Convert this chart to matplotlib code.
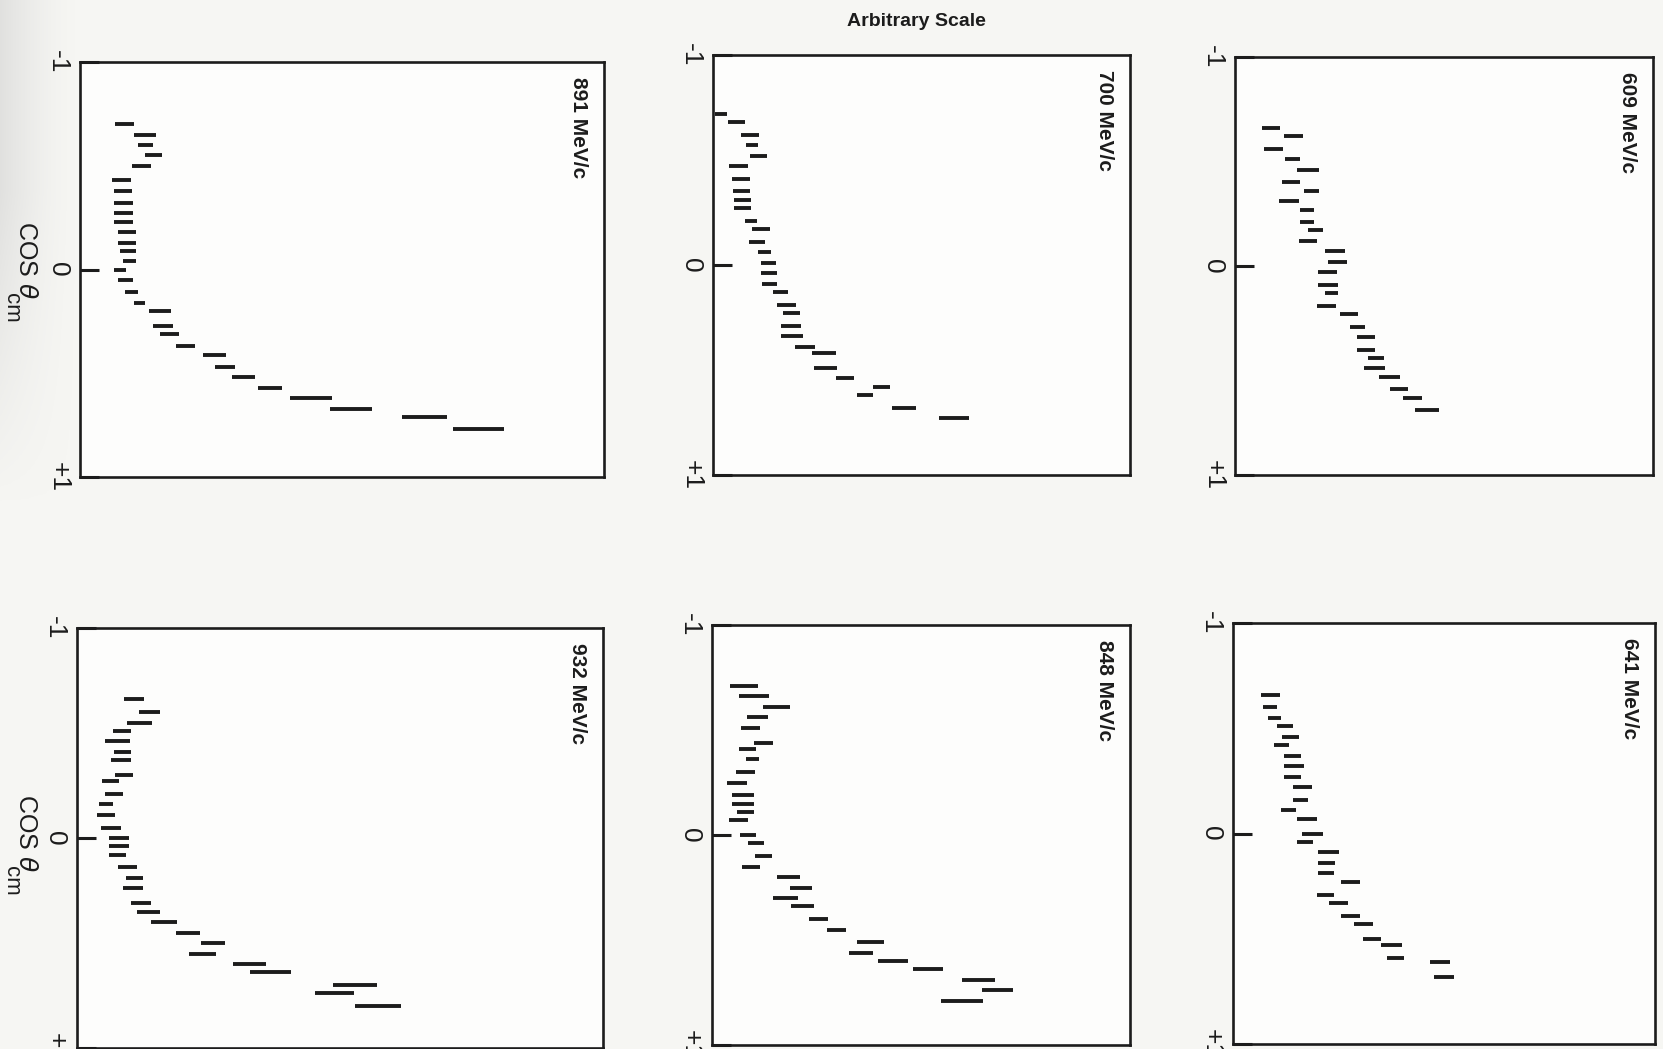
import numpy as np
import matplotlib
matplotlib.use('Agg')
import matplotlib.pyplot as plt

plt.rcParams['font.family'] = ['Liberation Sans', 'DejaVu Sans']

# cos(theta_cm) bins, measured value and error (arbitrary units, 0-100 across a panel)
cos_609 = [-0.66, -0.62, -0.56, -0.51, -0.46, -0.40, -0.36, -0.31, -0.27, -0.21, -0.17, -0.12, -0.07, -0.02,
           0.03, 0.09, 0.13, 0.19, 0.23, 0.29, 0.34, 0.40, 0.44, 0.49, 0.53, 0.59, 0.63, 0.69]
val_609 = [8.6, 14.0, 9.2, 13.8, 17.5, 13.4, 18.4, 12.9, 17.3, 17.3, 19.3, 17.4, 23.9, 24.5,
           22.1, 22.3, 23.1, 21.8, 27.2, 29.2, 31.4, 31.3, 33.8, 33.4, 37.0, 39.2, 42.5, 45.9]
err_609 = [2.2, 2.2, 2.2, 1.8, 2.7, 2.2, 1.8, 2.4, 1.7, 1.7, 1.8, 2.2, 2.4, 2.2,
           2.2, 2.4, 1.6, 2.3, 2.2, 1.8, 2.1, 2.2, 1.9, 2.5, 2.5, 2.1, 2.2, 2.8]

cos_641 = [-0.66, -0.60, -0.55, -0.51, -0.46, -0.42, -0.37, -0.32, -0.27, -0.22, -0.16, -0.11, -0.07, 0.00,
           0.04, 0.09, 0.14, 0.19, 0.23, 0.29, 0.33, 0.39, 0.43, 0.50, 0.53, 0.59, 0.61, 0.68]
val_641 = [8.9, 8.7, 9.8, 12.3, 13.7, 11.5, 14.1, 14.5, 14.1, 16.5, 16.0, 13.1, 17.6, 18.9,
           17.1, 22.7, 22.1, 22.1, 27.8, 21.9, 25.0, 27.8, 30.9, 33.0, 37.5, 38.5, 49.1, 50.0]
err_641 = [2.3, 1.7, 1.6, 1.8, 2.0, 1.8, 1.9, 2.3, 1.9, 2.2, 1.7, 1.8, 2.4, 2.5,
           1.9, 2.5, 2.0, 1.9, 2.2, 2.1, 2.2, 2.2, 2.2, 2.1, 2.5, 2.1, 2.4, 2.4]

cos_700 = [-0.72, -0.68, -0.62, -0.57, -0.52, -0.47, -0.41, -0.35, -0.31, -0.27, -0.21, -0.17, -0.11, -0.06,
           -0.01, 0.04, 0.09, 0.13, 0.19, 0.23, 0.29, 0.34, 0.39, 0.42, 0.49, 0.54, 0.58, 0.62, 0.68, 0.73]
val_700 = [1.9, 5.7, 8.9, 9.4, 10.9, 6.2, 6.7, 6.9, 7.0, 7.0, 9.1, 11.5, 10.6, 12.4,
           13.2, 13.4, 13.5, 16.2, 17.6, 18.9, 18.6, 18.9, 22.1, 26.7, 27.0, 31.7, 40.4, 36.5, 45.8, 57.8]
err_700 = [1.4, 2.0, 2.2, 1.5, 2.0, 2.3, 2.2, 2.0, 2.0, 2.0, 1.4, 2.2, 1.9, 1.5,
           1.8, 2.0, 1.8, 1.9, 2.2, 2.0, 2.4, 2.7, 2.4, 2.9, 2.8, 2.2, 2.0, 1.9, 2.8, 3.6]

cos_848 = [-0.71, -0.66, -0.61, -0.56, -0.51, -0.44, -0.41, -0.36, -0.30, -0.25, -0.19, -0.15, -0.11, -0.07,
           0.00, 0.04, 0.10, 0.15, 0.20, 0.25, 0.30, 0.34, 0.40, 0.45, 0.51, 0.56, 0.60, 0.64, 0.69, 0.74, 0.79]
val_848 = [7.7, 10.1, 15.4, 10.8, 9.2, 12.3, 8.5, 9.7, 8.0, 6.0, 7.4, 7.5, 8.1, 6.3,
           8.6, 10.6, 12.3, 9.3, 18.3, 21.3, 17.6, 21.6, 25.5, 29.7, 37.9, 35.6, 43.4, 51.7, 63.8, 68.2, 59.8]
err_848 = [3.4, 3.6, 3.3, 2.5, 2.3, 2.2, 2.0, 1.6, 2.3, 2.3, 2.7, 2.6, 2.0, 2.2,
           1.9, 1.9, 2.0, 2.2, 2.8, 2.6, 2.9, 2.8, 2.3, 2.3, 3.3, 2.8, 3.6, 3.5, 3.9, 3.7, 5.1]

cos_891 = [-0.70, -0.65, -0.60, -0.55, -0.50, -0.43, -0.38, -0.32, -0.27, -0.23, -0.18, -0.13, -0.09, -0.04,
           0.00, 0.05, 0.11, 0.16, 0.20, 0.27, 0.31, 0.37, 0.41, 0.47, 0.52, 0.57, 0.62, 0.67, 0.71, 0.77]
val_891 = [8.5, 12.4, 12.5, 14.0, 11.7, 8.0, 8.2, 8.3, 8.3, 8.3, 9.0, 8.9, 9.1, 9.4,
           7.6, 8.7, 9.8, 11.4, 15.3, 15.8, 17.0, 20.2, 25.7, 27.6, 31.2, 36.2, 44.0, 51.8, 65.7, 76.1]
err_891 = [1.8, 2.1, 1.4, 1.6, 1.8, 1.8, 1.7, 1.9, 1.9, 1.9, 1.7, 1.7, 1.5, 1.2,
           1.2, 1.5, 1.2, 1.0, 2.1, 1.9, 1.8, 1.8, 2.2, 1.9, 2.2, 2.3, 4.0, 4.0, 4.3, 4.9]

cos_932 = [-0.66, -0.60, -0.55, -0.51, -0.46, -0.41, -0.37, -0.30, -0.27, -0.21, -0.16, -0.11, -0.05, 0.00,
           0.04, 0.08, 0.14, 0.19, 0.24, 0.31, 0.35, 0.40, 0.45, 0.50, 0.55, 0.60, 0.64, 0.70, 0.74, 0.80]
val_932 = [10.9, 13.7, 11.9, 8.5, 7.7, 8.6, 8.4, 9.0, 6.3, 7.0, 5.5, 5.5, 6.4, 7.9,
           7.9, 7.7, 9.6, 11.0, 10.7, 12.2, 13.6, 16.6, 21.1, 25.9, 23.9, 32.8, 36.8, 52.9, 49.0, 57.2]
err_932 = [1.9, 2.0, 2.3, 1.7, 2.4, 1.6, 1.9, 1.7, 1.6, 1.7, 1.4, 1.7, 1.9, 1.9,
           1.9, 1.7, 1.8, 1.6, 1.9, 1.9, 2.2, 2.5, 2.3, 2.3, 2.6, 3.1, 3.9, 4.2, 3.7, 4.4]

momenta = ['609', '641', '700', '848', '891', '932']
tick_pos = [-1, 0, 1]
tick_text = ['-1', '0', '+1']

# page is printed sideways: cos(theta) runs down the page, value runs to the right
W, H = 1663, 1049
boxes = {  # left, top, right, bottom in pixels
    '891': (80, 62, 604, 477),
    '700': (713, 55, 1130, 475),
    '609': (1235, 57, 1653, 475),
    '932': (77, 628, 603, 1048),
    '848': (712, 625, 1130, 1045),
    '641': (1233, 623, 1655, 1044),
}
series = {
    '609': (cos_609, val_609, err_609),
    '641': (cos_641, val_641, err_641),
    '700': (cos_700, val_700, err_700),
    '848': (cos_848, val_848, err_848),
    '891': (cos_891, val_891, err_891),
    '932': (cos_932, val_932, err_932),
}

ink = '#1c1c1c'
fig = plt.figure(figsize=(W / 100, H / 100), dpi=100, facecolor='#f6f6f3')

# faint grey shading along the upper left edge of the sheet
bg = fig.add_axes([0, 0, 1, 1], zorder=-5)
bg.axis('off')
fx = np.linspace(1, 0, 90) ** 1.6
fy = np.clip(np.linspace(-0.3, 1.6, 120), 0, 1)[:, None]
strip = np.zeros((120, 90, 4))
strip[..., :3] = 0.78
strip[..., 3] = 0.45 * fx[None, :] * fy
bg.imshow(strip, extent=[0, 80, H - 600, H], aspect='auto', origin='lower')
bg.set_xlim(0, W)
bg.set_ylim(0, H)

for p in momenta:
    l, t, r, b = boxes[p]
    ax = fig.add_axes([l / W, 1 - b / H, (r - l) / W, (b - t) / H])
    ax.set_facecolor('#fdfdfc')
    c, v, e = series[p]
    lo = [vi - ei for vi, ei in zip(v, e)]
    hi = [vi + ei for vi, ei in zip(v, e)]
    ax.hlines(c, lo, hi, colors=ink, linewidth=2.8)
    ax.set_xlim(0, 100)
    ax.set_ylim(1, -1)
    ax.set_xticks([])
    ax.set_yticks(tick_pos, tick_text)
    ax.tick_params(axis='y', direction='in', length=14, width=2.2, pad=7, colors=ink,
                   labelsize=19, labelrotation=-90)
    for lab in ax.get_yticklabels():
        lab.set_verticalalignment('center')
    for s in ax.spines.values():
        s.set_linewidth(1.9)
        s.set_color(ink)
    ax.text(1 - 16 / (r - l), 1 - 15 / (b - t), p + ' MeV/c', transform=ax.transAxes,
            rotation=-90, ha='right', va='top', fontsize=15, fontweight='bold', color=ink)

fig.text(916 / W, 1 - 22 / H, 'Arbitrary Scale', ha='center', va='center',
         fontsize=14, fontweight='bold', color=ink)
for yc in (260, 833):
    fig.text(26 / W, 1 - yc / H, r'COS $\theta$', rotation=-90,
             ha='center', va='center', fontsize=18, color=ink)
    fig.text(11 / W, 1 - (yc + 48) / H, 'cm', rotation=-90,
             ha='center', va='center', fontsize=16, color=ink)

fig.savefig('out.png', dpi=100, facecolor=fig.get_facecolor())
